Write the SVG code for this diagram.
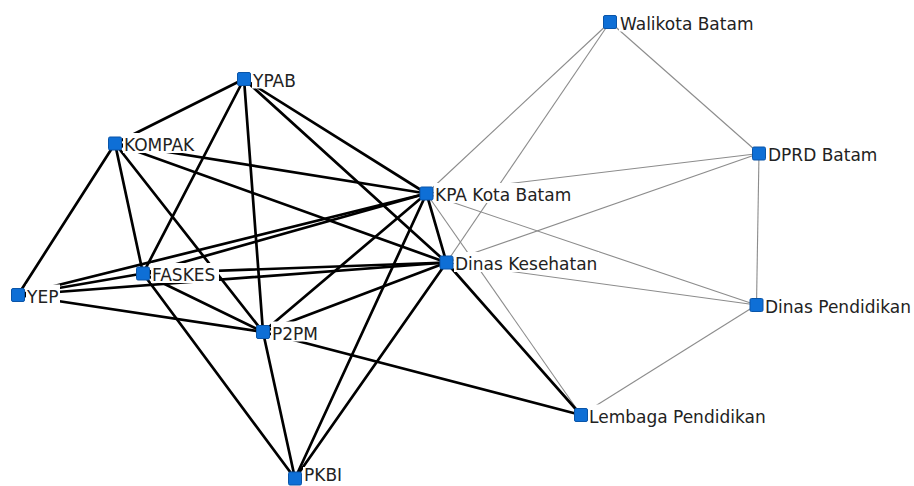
<svg xmlns="http://www.w3.org/2000/svg" width="914" height="486" viewBox="0 0 914 486">
<style>
.e{stroke:#000;stroke-width:2.7;stroke-linecap:round;fill:none}
.g{stroke:#8c8c8c;stroke-width:1.1;fill:none}
.bg{fill:#fff}
.sq{fill:#0e6fd6;stroke:#0a55a8;stroke-width:1}
.lb{font-family:"DejaVu Sans",Verdana,sans-serif;font-size:17px;fill:#222}
</style>
<rect width="914" height="486" fill="#fff"/>
<g id="connectors">
<line class="g" x1="610" y1="22" x2="426.5" y2="193.5"/>
<line class="g" x1="610" y1="22" x2="446.5" y2="262.5"/>
<line class="g" x1="610" y1="22" x2="759" y2="153.5"/>
<line class="g" x1="759" y1="153.5" x2="426.5" y2="193.5"/>
<line class="g" x1="759" y1="153.5" x2="446.5" y2="262.5"/>
<line class="g" x1="759" y1="153.5" x2="756.5" y2="305"/>
<line class="g" x1="426.5" y1="193.5" x2="756.5" y2="305"/>
<line class="g" x1="446.5" y1="262.5" x2="756.5" y2="305"/>
<line class="g" x1="756.5" y1="305" x2="581" y2="415"/>
<line class="g" x1="426.5" y1="193.5" x2="581" y2="415"/>
<line class="e" x1="244" y1="79" x2="115" y2="143.5"/>
<line class="e" x1="244" y1="79" x2="143" y2="273.5"/>
<line class="e" x1="244" y1="79" x2="263" y2="332"/>
<line class="e" x1="244" y1="79" x2="426.5" y2="193.5"/>
<line class="e" x1="244" y1="79" x2="446.5" y2="262.5"/>
<line class="e" x1="115" y1="143.5" x2="18" y2="295"/>
<line class="e" x1="115" y1="143.5" x2="143" y2="273.5"/>
<line class="e" x1="115" y1="143.5" x2="263" y2="332"/>
<line class="e" x1="115" y1="143.5" x2="426.5" y2="193.5"/>
<line class="e" x1="115" y1="143.5" x2="446.5" y2="262.5"/>
<line class="e" x1="18" y1="295" x2="143" y2="273.5"/>
<line class="e" x1="18" y1="295" x2="426.5" y2="193.5"/>
<line class="e" x1="18" y1="295" x2="446.5" y2="262.5"/>
<line class="e" x1="18" y1="295" x2="263" y2="332"/>
<line class="e" x1="143" y1="273.5" x2="426.5" y2="193.5"/>
<line class="e" x1="143" y1="273.5" x2="446.5" y2="262.5"/>
<line class="e" x1="143" y1="273.5" x2="263" y2="332"/>
<line class="e" x1="143" y1="273.5" x2="295" y2="478.5"/>
<line class="e" x1="426.5" y1="193.5" x2="446.5" y2="262.5"/>
<line class="e" x1="426.5" y1="193.5" x2="263" y2="332"/>
<line class="e" x1="426.5" y1="193.5" x2="295" y2="478.5"/>
<line class="e" x1="446.5" y1="262.5" x2="263" y2="332"/>
<line class="e" x1="446.5" y1="262.5" x2="295" y2="478.5"/>
<line class="e" x1="446.5" y1="262.5" x2="581" y2="415"/>
<line class="e" x1="263" y1="332" x2="295" y2="478.5"/>
<line class="e" x1="263" y1="332" x2="581" y2="415"/>
</g>
<g id="node-walikota"><rect class="bg" x="619" y="11.5" width="137" height="20"/><rect class="sq" x="603.5" y="15.5" width="13" height="13" rx="1.5"/><text class="lb" x="620" y="29.5">Walikota Batam</text></g>
<g id="node-dprd"><rect class="bg" x="767" y="143" width="112" height="20"/><rect class="sq" x="752.5" y="147" width="13" height="13" rx="1.5"/><text class="lb" x="768" y="161">DPRD Batam</text></g>
<g id="node-kpa"><rect class="bg" x="434" y="183" width="142" height="20"/><rect class="sq" x="420" y="187" width="13" height="13" rx="1.5"/><text class="lb" x="435" y="201">KPA Kota Batam</text></g>
<g id="node-dinkes"><rect class="bg" x="454" y="252" width="145" height="20"/><rect class="sq" x="440" y="256" width="13" height="13" rx="1.5"/><text class="lb" x="455" y="270">Dinas Kesehatan</text></g>
<g id="node-dispend"><rect class="bg" x="764" y="294.5" width="148" height="20"/><rect class="sq" x="750" y="298.5" width="13" height="13" rx="1.5"/><text class="lb" x="765" y="312.5">Dinas Pendidikan</text></g>
<g id="node-lembaga"><rect class="bg" x="588" y="404.5" width="181" height="20"/><rect class="sq" x="574.5" y="408.5" width="13" height="13" rx="1.5"/><text class="lb" x="589" y="422.5">Lembaga Pendidikan</text></g>
<g id="node-ypab"><rect class="bg" x="252" y="68.5" width="47" height="20"/><rect class="sq" x="237.5" y="72.5" width="13" height="13" rx="1.5"/><text class="lb" x="253" y="86.5">YPAB</text></g>
<g id="node-kompak"><rect class="bg" x="123" y="133" width="75" height="20"/><rect class="sq" x="108.5" y="137" width="13" height="13" rx="1.5"/><text class="lb" x="124" y="151">KOMPAK</text></g>
<g id="node-faskes"><rect class="bg" x="151" y="263" width="68" height="20"/><rect class="sq" x="136.5" y="267" width="13" height="13" rx="1.5"/><text class="lb" x="152" y="281">FASKES</text></g>
<g id="node-yep"><rect class="bg" x="26" y="284.5" width="34" height="20"/><rect class="sq" x="11.5" y="288.5" width="13" height="13" rx="1.5"/><text class="lb" x="27" y="302.5">YEP</text></g>
<g id="node-p2pm"><rect class="bg" x="271" y="321.5" width="49" height="20"/><rect class="sq" x="256.5" y="325.5" width="13" height="13" rx="1.5"/><text class="lb" x="272" y="339.5">P2PM</text></g>
<g id="node-pkbi"><rect class="bg" x="303" y="467" width="41" height="18"/><rect class="sq" x="288.5" y="472" width="13" height="13" rx="1.5"/><text class="lb" x="304" y="481">PKBI</text></g>
</svg>
